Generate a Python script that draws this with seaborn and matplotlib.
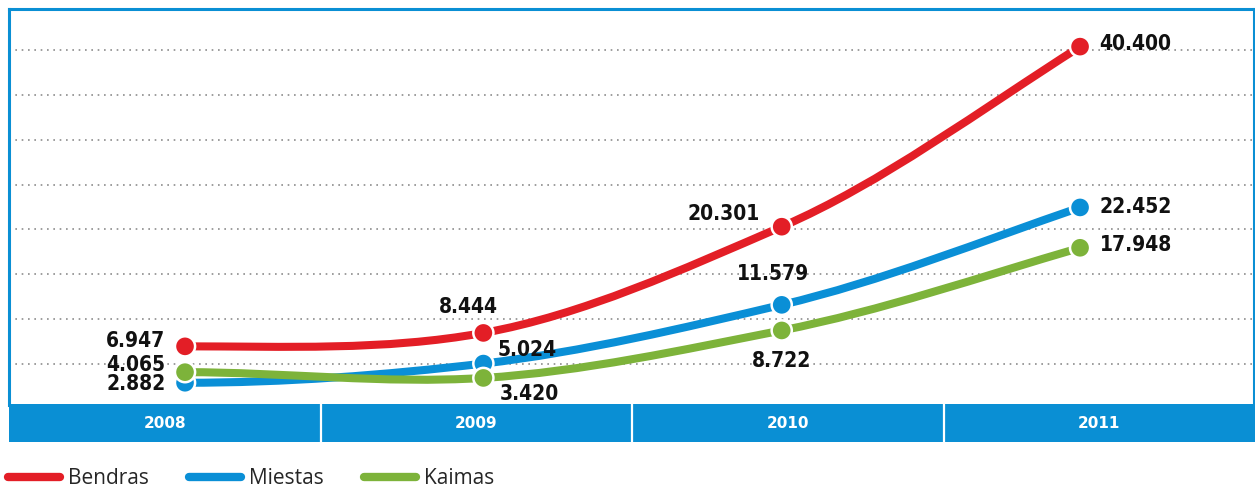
import numpy as np
import pandas as pd
import matplotlib
matplotlib.use("Agg")
import matplotlib.pyplot as plt
import seaborn as sns
from matplotlib import font_manager
from matplotlib.path import Path
from matplotlib.patches import PathPatch
from matplotlib.lines import Line2D

# data
years = ["2008", "2009", "2010", "2011"]
bendras = [6.947, 8.444, 20.301, 40.400]
miestas = [2.882, 5.024, 11.579, 22.452]
kaimas = [4.065, 3.420, 8.722, 17.948]
series_names = ["Bendras", "Miestas", "Kaimas"]

colors = {"Bendras": "#e31e26", "Miestas": "#0a8fd6", "Kaimas": "#7db33a"}
frame_blue = "#0a8fd4"

# label offsets (points) per series, per year: (dx, dy, ha)
label_offsets = {
    "Bendras": [(-14, 4, "right"), (-11, 19, "center"), (-16, 9, "right"), (14, 2, "left")],
    "Miestas": [(-14, -1, "right"), (10, 10, "left"), (-6, 22, "center"), (14, 0, "left")],
    "Kaimas": [(-14, 5, "right"), (11.5, -11.5, "left"), (0, -22, "center"), (14, 2, "left")],
}


def pick_label_font():
    # narrow bold face if one is installed, else plain DejaVu
    fonts = font_manager.fontManager.ttflist
    names = {f.name for f in fonts}
    if "Liberation Sans Narrow" in names:
        return {"family": "Liberation Sans Narrow", "size": 16}
    if any(f.name == "DejaVu Sans" and f.stretch == "condensed" for f in fonts):
        return {"family": "DejaVu Sans", "stretch": "condensed", "size": 15}
    return {"family": "DejaVu Sans", "size": 13}


def smooth_path(xs, ys, k=0.9):
    # cubic hermite curve through the points, drawn as bezier segments
    n = len(xs)
    m = np.zeros(n)
    for i in range(1, n - 1):
        m[i] = (ys[i + 1] - ys[i - 1]) / 2 * k
    m[-1] = (ys[-1] - ys[-2]) * 1.05
    verts = [(xs[0], ys[0])]
    codes = [Path.MOVETO]
    for i in range(n - 1):
        h = xs[i + 1] - xs[i]
        verts += [(xs[i] + h / 3, ys[i] + m[i] * h / 3),
                  (xs[i + 1] - h / 3, ys[i + 1] - m[i + 1] * h / 3),
                  (xs[i + 1], ys[i + 1])]
        codes += [Path.CURVE4] * 3
    return Path(verts, codes)


def main():
    sns.set_style("white")
    plt.rcParams["font.family"] = ["DejaVu Sans"]
    label_font = pick_label_font()

    df = pd.DataFrame({
        "year": list(range(len(years))) * 3,
        "value": bendras + miestas + kaimas,
        "series": [s for s in series_names for _ in years],
    })

    fig = plt.figure(figsize=(12.55, 4.92), dpi=100)
    ax = fig.add_axes([9 / 1255, 87 / 492, 1245 / 1255, 396 / 492])

    # dotted grid
    for g in range(5, 45, 5):
        ax.axhline(g, color="#8c8c8c", lw=1.2, ls=(0, (1, 2.8)), zorder=0)

    for name in series_names:
        sub = df[df["series"] == name]
        path = smooth_path(sub["year"].to_numpy(float), sub["value"].to_numpy(float))
        ax.add_patch(PathPatch(path, fill=False, lw=5.8, edgecolor=colors[name],
                               capstyle="round", joinstyle="round", zorder=2))

    sns.scatterplot(data=df, x="year", y="value", hue="series", palette=colors,
                    s=210, edgecolor="white", linewidth=1.8, legend=False,
                    zorder=4, ax=ax)

    for name in series_names:
        sub = df[df["series"] == name]
        for (x, v), (dx, dy, ha) in zip(zip(sub["year"], sub["value"]), label_offsets[name]):
            ax.annotate(f"{v:.3f}", (x, v), xytext=(dx, dy), textcoords="offset points",
                        ha=ha, va="center", fontweight="bold", color="#111111",
                        zorder=5, **label_font)

    ax.set_xlim(-0.59, 3.583)
    ax.set_ylim(0.4, 44.6)
    ax.set_xticks([])
    ax.set_yticks([])
    ax.set_xlabel("")
    ax.set_ylabel("")
    for side in ["top", "left", "right"]:
        ax.spines[side].set_color(frame_blue)
        ax.spines[side].set_linewidth(2.2)
    ax.spines["bottom"].set_visible(False)

    # year band
    band = fig.add_axes([9 / 1255, 50 / 492, 1246 / 1255, 38 / 492])
    band.set_facecolor(frame_blue)
    band.set_xlim(0, len(years))
    band.set_ylim(0, 1)
    for i in range(1, len(years)):
        band.axvline(i, color="white", lw=1.6)
    for i, yr in enumerate(years):
        band.text(i + 0.5, 0.5, yr, ha="center", va="center", color="white",
                  fontsize=11, fontweight="bold")
    band.set_xticks([])
    band.set_yticks([])
    for s in band.spines.values():
        s.set_visible(False)

    # legend
    handles = [Line2D([0], [0], color=colors[n], lw=6, solid_capstyle="round")
               for n in series_names]
    fig.legend(handles, series_names, loc="center left",
               bbox_to_anchor=(8 / 1255, 13 / 492), ncol=3, frameon=False,
               prop={"family": ["Open Sans", "DejaVu Sans"], "size": 15},
               handlelength=2.5, handletextpad=0.4, columnspacing=1.9,
               borderpad=0, borderaxespad=0)

    fig.savefig("out.png", dpi=100)
    plt.close(fig)


if __name__ == "__main__":
    main()
